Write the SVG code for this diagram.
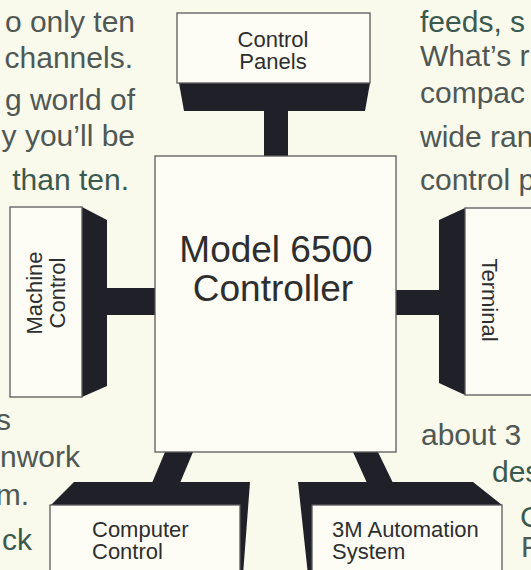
<svg xmlns="http://www.w3.org/2000/svg" width="531" height="570" viewBox="0 0 531 570">
<style>
.bg{fill:#f9f9ec}
.box{fill:#fdfdf6;stroke:#5a5a5a;stroke-width:1.3}
.dark{fill:#202029}
.lbl{font-family:"Liberation Sans",Arial,sans-serif;font-size:22px;fill:#2e2e2e}
.mid{text-anchor:middle}
.main{font-family:"Liberation Sans",Arial,sans-serif;font-size:37px;fill:#2e2e2e;text-anchor:middle}
.body{font-family:"Liberation Sans",Arial,sans-serif;font-size:30px;fill:#4f5855}
.end{text-anchor:end}
.green{fill:#3a5a4f}
</style>
<rect class="bg" width="531" height="570"/>
<g id="body-text" class="body">
<text class="end" x="135" y="32">o only ten</text>
<text class="end" x="133" y="68">channels.</text>
<text class="end" x="135" y="110">g world of</text>
<text class="end" x="135" y="146">y you’ll be</text>
<text class="end green" x="129" y="190">than ten.</text>
<text class="end" x="11" y="430">s</text>
<text class="end" x="80" y="467">nwork</text>
<text class="end" x="29" y="505">m.</text>
<text class="end green" x="32" y="550">ck</text>
<text class="green" x="420" y="32">feeds, s</text>
<text x="420" y="66">What’s r</text>
<text x="420" y="103">compac</text>
<text x="420" y="147">wide ran</text>
<text x="420" y="190">control p</text>
<text x="421" y="445">about 3</text>
<text class="green" x="492" y="482">des</text>
<text class="green" x="520" y="527">C</text>
<text x="521" y="557">F</text>
</g>
<g id="connectors" class="dark">
<rect x="264" y="110" width="24" height="47"/>
<rect x="106" y="288" width="50" height="27"/>
<rect x="395" y="290" width="45" height="25"/>
<polygon points="165,452 193,452 180,483 152,483"/>
<polygon points="353,452 378,452 393,483 367,483"/>
</g>
<g id="controller">
<rect class="box" x="155" y="156" width="241" height="296"/>
<text class="main" x="276" y="262">Model 6500</text>
<text class="main" x="273" y="301">Controller</text>
</g>
<g id="control-panels">
<polygon class="dark" points="179,83 370,83 365,111 184,111"/>
<rect class="box" x="177" y="13" width="193" height="70"/>
<text class="lbl mid" x="273" y="47">Control</text>
<text class="lbl mid" x="273" y="69">Panels</text>
</g>
<g id="machine-control">
<polygon class="dark" points="82,207 107,220 107,386 82,397"/>
<rect class="box" x="10" y="207" width="72" height="190"/>
<text class="lbl mid" transform="translate(42,293) rotate(-90)">Machine</text>
<text class="lbl mid" transform="translate(65,293) rotate(-90)">Control</text>
</g>
<g id="terminal">
<polygon class="dark" points="465,208 439,220 439,383 465,395"/>
<rect class="box" x="465" y="208" width="80" height="187"/>
<text class="lbl mid" transform="translate(482,300) rotate(90)">Terminal</text>
</g>
<g id="computer-control">
<polygon class="dark" points="50,506 74,482 250,482 243,575 240,575 240,505"/>
<rect class="box" x="50" y="505" width="190" height="80"/>
<text class="lbl" x="92" y="537">Computer</text>
<text class="lbl" x="92" y="559">Control</text>
</g>
<g id="automation-system">
<polygon class="dark" points="298,482 473,482 502,505 312,505 312,575 308,575"/>
<rect class="box" x="312" y="505" width="190" height="80"/>
<text class="lbl" x="332" y="537">3M Automation</text>
<text class="lbl" x="332" y="559">System</text>
</g>
</svg>
